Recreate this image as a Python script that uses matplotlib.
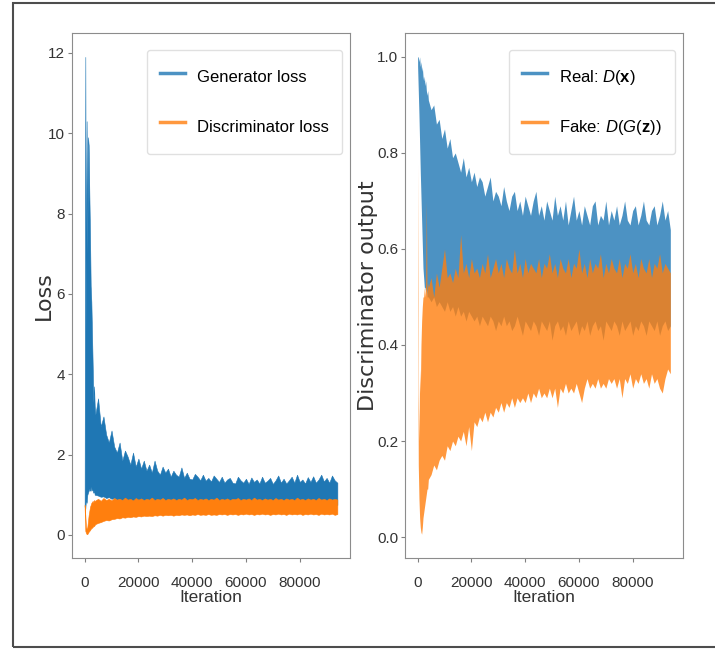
import numpy as np
import matplotlib
matplotlib.use("Agg")
import matplotlib.pyplot as plt
from matplotlib.lines import Line2D
from matplotlib.patches import Rectangle

# Arial-like font for tick / legend text
plt.rcParams['font.family'] = ['Liberation Sans', 'DejaVu Sans']
plt.rcParams['mathtext.fontset'] = 'custom'
plt.rcParams['mathtext.rm'] = 'Liberation Sans'
plt.rcParams['mathtext.it'] = 'Liberation Sans:italic'
plt.rcParams['mathtext.bf'] = 'Liberation Sans:bold'

# iteration grid: fine at the start, then every 1000
iters = np.concatenate([np.arange(0, 4000, 250), np.arange(4000, 94001, 1000)])

# envelopes of the noisy curves (upper / lower)
gen_hi = [0.75, 11.9, 5.0, 10.3, 7.0, 9.9, 9.7, 8.5, 7.5, 6.2, 5.8, 5.0, 4.2, 3.3, 3.7, 3.2,
          3.0, 3.4, 2.7, 2.95, 2.5, 2.3, 2.6, 2.2, 2.05, 2.3,
          1.85, 2.1, 1.95, 1.75, 2.05, 1.7, 1.9, 1.65, 1.85, 1.6,
          1.75, 1.55, 1.85, 1.6, 1.5, 1.7, 1.55, 1.65, 1.45, 1.6,
          1.5, 1.45, 1.68, 1.42, 1.55, 1.4, 1.38, 1.52, 1.45, 1.36,
          1.5, 1.35, 1.42, 1.33, 1.48, 1.4, 1.32, 1.45, 1.3, 1.38,
          1.42, 1.3, 1.28, 1.45, 1.36, 1.3, 1.4, 1.27, 1.43, 1.32,
          1.38, 1.28, 1.45, 1.3, 1.35, 1.42, 1.27, 1.36, 1.48, 1.3,
          1.4, 1.28, 1.36, 1.45, 1.3, 1.5, 1.32, 1.38, 1.28, 1.44,
          1.32, 1.46, 1.3, 1.38, 1.5, 1.33, 1.42, 1.3, 1.48, 1.36, 1.3]
gen_lo = [0.7, 0.65, 0.9, 0.8, 1.0, 1.05, 1.1, 1.15, 1.1, 1.2, 1.1, 1.15, 1.1, 1.05, 1.1, 1.0,
          1.0, 0.98, 0.95, 0.96, 0.92, 0.94, 0.9, 0.92, 0.88, 0.9,
          0.86, 0.88, 0.85, 0.87, 0.84, 0.85, 0.83, 0.84, 0.82, 0.83,
          0.8, 0.82, 0.8, 0.81, 0.79, 0.8, 0.78, 0.8, 0.78, 0.79,
          0.77, 0.79, 0.77, 0.78, 0.76, 0.78, 0.76, 0.77, 0.76, 0.77,
          0.75, 0.77, 0.75, 0.76, 0.75, 0.77, 0.75, 0.76, 0.74, 0.76,
          0.75, 0.76, 0.74, 0.76, 0.75, 0.76, 0.74, 0.75, 0.74, 0.76,
          0.74, 0.75, 0.74, 0.76, 0.75, 0.76, 0.74, 0.75, 0.74, 0.76,
          0.74, 0.75, 0.74, 0.76, 0.74, 0.75, 0.74, 0.76, 0.74, 0.75,
          0.74, 0.76, 0.74, 0.75, 0.74, 0.76, 0.74, 0.75, 0.74, 0.76, 0.75]
disc_hi = [0.75, 0.5, 0.2, 0.15, 0.2, 0.35, 0.5, 0.6, 0.7, 0.75, 0.8, 0.82, 0.85, 0.8, 0.87, 0.84,
           0.86, 0.9, 0.85, 0.92, 0.87, 0.9, 0.86, 0.92, 0.88, 0.9,
           0.87, 0.93, 0.88, 0.9, 0.86, 0.92, 0.88, 0.91, 0.87, 0.9,
           0.88, 0.93, 0.87, 0.9, 0.88, 0.92, 0.87, 0.9, 0.88, 0.91,
           0.87, 0.9, 0.88, 0.93, 0.87, 0.9, 0.89, 0.92, 0.87, 0.9,
           0.88, 0.91, 0.87, 0.9, 0.88, 0.93, 0.87, 0.9, 0.88, 0.91,
           0.87, 0.9, 0.89, 0.92, 0.87, 0.9, 0.88, 0.91, 0.87, 0.93,
           0.88, 0.9, 0.87, 0.91, 0.88, 0.9, 0.87, 0.92, 0.88, 0.9,
           0.87, 0.91, 0.88, 0.9, 0.87, 0.93, 0.88, 0.9, 0.87, 0.91,
           0.88, 0.9, 0.87, 0.92, 0.88, 0.9, 0.87, 0.91, 0.88, 0.9, 0.88]
disc_lo = [0.65, 0.1, 0.05, 0.02, 0.02, 0.05, 0.08, 0.1, 0.12, 0.15, 0.17, 0.18, 0.2, 0.22, 0.22, 0.25,
           0.27, 0.3, 0.32, 0.35, 0.37, 0.36, 0.39, 0.4, 0.42, 0.41,
           0.44, 0.43, 0.45, 0.44, 0.46, 0.45, 0.47, 0.46, 0.48, 0.47,
           0.48, 0.47, 0.49, 0.48, 0.5, 0.48, 0.5, 0.49, 0.5, 0.48,
           0.5, 0.49, 0.51, 0.5, 0.51, 0.49, 0.51, 0.5, 0.52, 0.5,
           0.51, 0.5, 0.52, 0.5, 0.51, 0.5, 0.52, 0.51, 0.52, 0.5,
           0.52, 0.51, 0.52, 0.5, 0.52, 0.51, 0.53, 0.51, 0.52, 0.5,
           0.52, 0.51, 0.53, 0.51, 0.52, 0.5, 0.52, 0.51, 0.53, 0.51,
           0.52, 0.5, 0.53, 0.51, 0.52, 0.51, 0.53, 0.5, 0.52, 0.51,
           0.53, 0.51, 0.52, 0.5, 0.53, 0.51, 0.52, 0.51, 0.53, 0.5, 0.52]

real_hi = [1.0, 1.0, 0.99, 1.0, 0.98, 0.99, 0.97, 0.98, 0.96, 0.95, 0.96, 0.94, 0.95, 0.93, 0.92, 0.93,
           0.91, 0.89, 0.9, 0.86, 0.87, 0.83, 0.85, 0.81, 0.83, 0.79,
           0.8, 0.78, 0.76, 0.79, 0.75, 0.77, 0.74, 0.76, 0.73, 0.75,
           0.74, 0.71, 0.73, 0.75, 0.7, 0.72, 0.71, 0.69, 0.73, 0.7,
           0.68, 0.71, 0.72, 0.68, 0.7, 0.67, 0.71, 0.69, 0.67, 0.7,
           0.72, 0.67, 0.69, 0.66, 0.7, 0.68, 0.66, 0.71, 0.67, 0.69,
           0.66, 0.7, 0.65, 0.68, 0.71, 0.66, 0.68, 0.65, 0.69, 0.67,
           0.65, 0.69, 0.7, 0.65, 0.67, 0.66, 0.7, 0.65, 0.68, 0.66,
           0.69, 0.65, 0.67, 0.7, 0.66, 0.65, 0.68, 0.69, 0.65, 0.67,
           0.7, 0.66, 0.65, 0.68, 0.69, 0.65, 0.67, 0.7, 0.66, 0.68, 0.64]
real_lo = [0.98, 0.93, 0.88, 0.82, 0.76, 0.71, 0.66, 0.61, 0.56, 0.54, 0.52, 0.52, 0.51, 0.52, 0.5, 0.5,
           0.5, 0.49, 0.5, 0.48, 0.49, 0.48, 0.47, 0.49, 0.47, 0.48,
           0.46, 0.48, 0.46, 0.47, 0.45, 0.47, 0.46, 0.45, 0.46, 0.44,
           0.46, 0.45, 0.44, 0.46, 0.45, 0.43, 0.45, 0.44, 0.46, 0.44,
           0.45, 0.43, 0.44, 0.46, 0.44, 0.42, 0.45, 0.44, 0.43, 0.45,
           0.44, 0.42, 0.45, 0.44, 0.43, 0.45, 0.41, 0.44, 0.45, 0.43,
           0.44, 0.42, 0.45, 0.43, 0.44, 0.45, 0.42, 0.44, 0.43, 0.45,
           0.42, 0.44, 0.45, 0.43, 0.44, 0.41, 0.45, 0.44, 0.43, 0.45,
           0.44, 0.42, 0.45, 0.43, 0.44, 0.45, 0.42, 0.44, 0.43, 0.45,
           0.44, 0.42, 0.45, 0.44, 0.43, 0.45, 0.42, 0.44, 0.45, 0.43, 0.44]
fake_hi = [0.78, 0.3, 0.2, 0.35, 0.3, 0.4, 0.45, 0.48, 0.5, 0.5, 0.52, 0.5, 0.53, 0.7, 0.5, 0.53,
           0.52, 0.54, 0.5, 0.55, 0.52, 0.56, 0.6, 0.54, 0.55, 0.53,
           0.56, 0.54, 0.63, 0.55, 0.57, 0.54, 0.58, 0.55, 0.56, 0.54,
           0.57, 0.55, 0.59, 0.54, 0.56, 0.58, 0.55, 0.57, 0.54, 0.58,
           0.56, 0.55, 0.6, 0.55, 0.57, 0.54, 0.58, 0.55, 0.57, 0.56,
           0.55, 0.58, 0.54, 0.57, 0.56, 0.59, 0.55, 0.57, 0.54, 0.58,
           0.56, 0.55, 0.58, 0.54, 0.57, 0.56, 0.6, 0.55, 0.57, 0.54,
           0.58, 0.55, 0.57, 0.56, 0.59, 0.54, 0.57, 0.55, 0.58, 0.56,
           0.55, 0.58, 0.54, 0.57, 0.56, 0.59, 0.55, 0.57, 0.54, 0.58,
           0.56, 0.55, 0.58, 0.54, 0.57, 0.56, 0.59, 0.55, 0.57, 0.56, 0.55]
fake_lo = [0.5, 0.15, 0.08, 0.04, 0.02, 0.01, 0.006, 0.02, 0.04, 0.05, 0.06, 0.07, 0.08, 0.09, 0.1, 0.1,
           0.12, 0.13, 0.15, 0.14, 0.16, 0.17, 0.16, 0.19, 0.18, 0.2,
           0.19, 0.21, 0.2, 0.22, 0.19, 0.23, 0.18, 0.24, 0.23, 0.25,
           0.24, 0.26, 0.24, 0.26, 0.25, 0.27, 0.26, 0.28, 0.26, 0.28,
           0.27, 0.29, 0.27, 0.29, 0.28, 0.29, 0.28, 0.3, 0.28, 0.3,
           0.29, 0.31, 0.29, 0.3, 0.29, 0.31, 0.29, 0.31, 0.27, 0.31,
           0.3, 0.32, 0.3, 0.31, 0.3, 0.32, 0.3, 0.28, 0.31, 0.33,
           0.31, 0.32, 0.31, 0.33, 0.31, 0.32, 0.31, 0.33, 0.32, 0.33,
           0.31, 0.33, 0.29, 0.33, 0.32, 0.34, 0.31, 0.33, 0.32, 0.34,
           0.32, 0.33, 0.31, 0.34, 0.32, 0.33, 0.31, 0.3, 0.33, 0.35, 0.34]

BLUE = '#1f77b4'
ORANGE = '#ff7f0e'
x_ticks = [0, 20000, 40000, 60000, 80000]

fig = plt.figure(figsize=(7.15, 6.49), dpi=100)
ax1 = fig.add_axes([0.1007, 0.1402, 0.3888, 0.8089])
ax2 = fig.add_axes([0.5664, 0.1402, 0.3888, 0.8089])

# left: losses
ax1.fill_between(iters, gen_lo, gen_hi, color=BLUE, lw=0.4)
ax1.fill_between(iters, disc_lo, disc_hi, color=ORANGE, lw=0.4)
ax1.set_yticks([0, 2, 4, 6, 8, 10, 12])

# right: discriminator outputs
ax2.fill_between(iters, real_lo, real_hi, color=BLUE, alpha=0.8, lw=0)
ax2.fill_between(iters, fake_lo, fake_hi, color=ORANGE, alpha=0.8, lw=0)
ax2.set_yticks([0.0, 0.2, 0.4, 0.6, 0.8, 1.0])

for ax in (ax1, ax2):
    ax.set_xticks(x_ticks)
    ax.tick_params(labelsize=11, colors='0.5', labelcolor='0.2', length=3)
    ax.tick_params(axis='x', pad=10)
    ax.tick_params(axis='y', pad=2)
    for s in ax.spines.values():
        s.set_color('0.55')
    ax.set_xlabel('Iteration', fontsize=12.5, color='0.2', labelpad=0)

ax1.set_ylabel('Loss', fontsize=16, family='DejaVu Sans', color='0.2')
ax1.yaxis.set_label_coords(-0.066, 0.5)
ax2.set_ylabel('Discriminator output', fontsize=16, family='DejaVu Sans', color='0.2')
ax2.yaxis.set_label_coords(-0.097, 0.5)

leg_kw = dict(loc='upper right', fontsize=12, handlelength=1.5, handletextpad=0.7,
              handleheight=2.2, labelspacing=1.3, borderpad=0.8, borderaxespad=0,
              edgecolor='0.85')
ax1.legend([Line2D([], [], color=BLUE, lw=2.5, alpha=0.8),
            Line2D([], [], color=ORANGE, lw=2.5, alpha=0.8)],
           ['Generator loss', 'Discriminator loss'],
           bbox_to_anchor=(0.971, 0.968), **leg_kw)
ax2.legend([Line2D([], [], color=BLUE, lw=2.5, alpha=0.8),
            Line2D([], [], color=ORANGE, lw=2.5, alpha=0.8)],
           [r'Real: $D(\mathbf{x})$', r'Fake: $D(G(\mathbf{z}))$'],
           bbox_to_anchor=(0.971, 0.968), **leg_kw)

# outer frame of the screenshot
fig.patches.append(Rectangle((13 / 715, 2 / 649), 1.0, 1 - 5 / 649,
                             transform=fig.transFigure, fill=False,
                             edgecolor='0.3', lw=1.5))

fig.savefig('out.png', dpi=100)
